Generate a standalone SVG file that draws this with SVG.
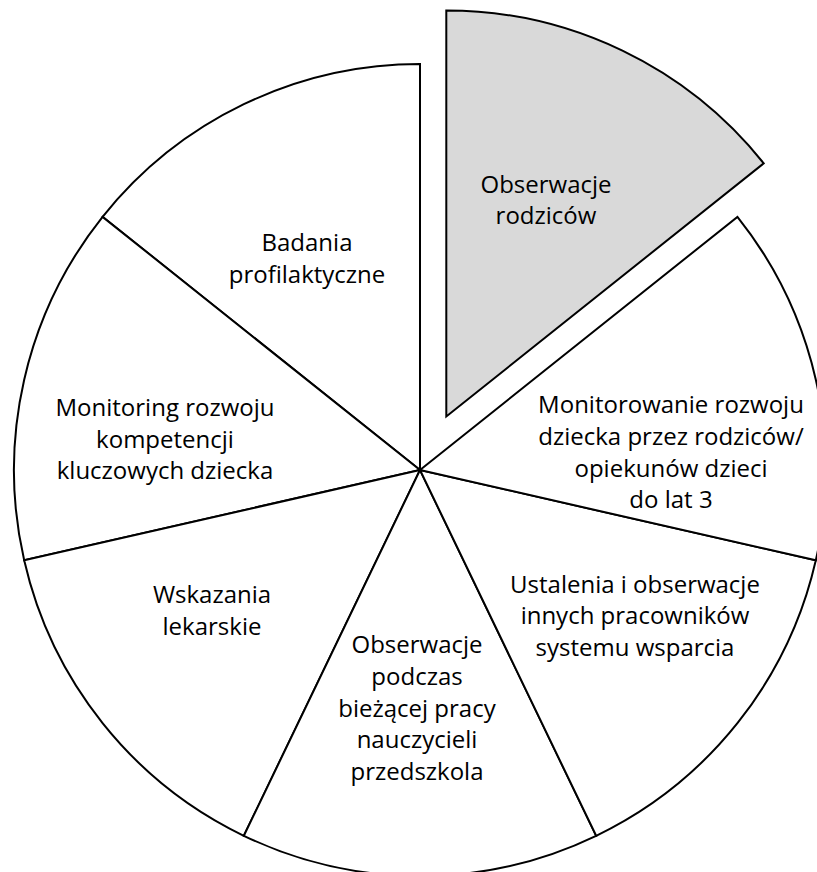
<svg xmlns="http://www.w3.org/2000/svg" width="817" height="872" viewBox="0 0 817 872">
  <style>
    .slice { fill: #ffffff; stroke: #000000; stroke-width: 2; stroke-linejoin: miter; }
    .hl { fill: #d9d9d9; }
    .lbl { font-family: "Open Sans", "Liberation Sans", sans-serif; font-size: 24px; fill: #000000; text-anchor: middle; }
  </style>
  <rect width="817" height="872" fill="#ffffff"/>

  <g id="badania">
    <path class="slice" d="M420,470 L102.58,216.86 A406,406 0 0 1 420,64 Z"/>
    <text class="lbl" x="307" y="251">Badania</text>
    <text class="lbl" x="307" y="283">profilaktyczne</text>
  </g>

  <g id="monitoring-kompetencji">
    <path class="slice" d="M420,470 L24.18,560.34 A406,406 0 0 1 102.58,216.86 Z"/>
    <text class="lbl" x="165" y="416">Monitoring rozwoju</text>
    <text class="lbl" x="165" y="448">kompetencji</text>
    <text class="lbl" x="165" y="479">kluczowych dziecka</text>
  </g>

  <g id="wskazania">
    <path class="slice" d="M420,470 L243.84,835.79 A406,406 0 0 1 24.18,560.34 Z"/>
    <text class="lbl" x="212" y="603">Wskazania</text>
    <text class="lbl" x="212" y="635">lekarskie</text>
  </g>

  <g id="obserwacje-nauczycieli">
    <path class="slice" d="M420,470 L596.16,835.79 A406,406 0 0 1 243.84,835.79 Z"/>
    <text class="lbl" x="417" y="653">Obserwacje</text>
    <text class="lbl" x="417" y="685">podczas</text>
    <text class="lbl" x="417" y="717">bieżącej pracy</text>
    <text class="lbl" x="417" y="748">nauczycieli</text>
    <text class="lbl" x="417" y="780">przedszkola</text>
  </g>

  <g id="ustalenia">
    <path class="slice" d="M420,470 L815.82,560.34 A406,406 0 0 1 596.16,835.79 Z"/>
    <text class="lbl" x="635" y="593">Ustalenia i obserwacje</text>
    <text class="lbl" x="635" y="624">innych pracowników</text>
    <text class="lbl" x="635" y="656">systemu wsparcia</text>
  </g>

  <g id="monitorowanie-rodzice">
    <path class="slice" d="M420,470 L737.42,216.86 A406,406 0 0 1 815.82,560.34 Z"/>
    <text class="lbl" x="671" y="413">Monitorowanie rozwoju</text>
    <text class="lbl" x="671" y="445">dziecka przez rodziców/</text>
    <text class="lbl" x="671" y="477">opiekunów dzieci</text>
    <text class="lbl" x="671" y="508">do lat 3</text>
  </g>

  <g id="obserwacje-rodzicow">
    <path class="slice hl" transform="translate(26.3,-53.5)" d="M420,470 L420,64 A406,406 0 0 1 737.42,216.86 Z"/>
    <text class="lbl" x="546" y="193">Obserwacje</text>
    <text class="lbl" x="546" y="224">rodziców</text>
  </g>
</svg>
